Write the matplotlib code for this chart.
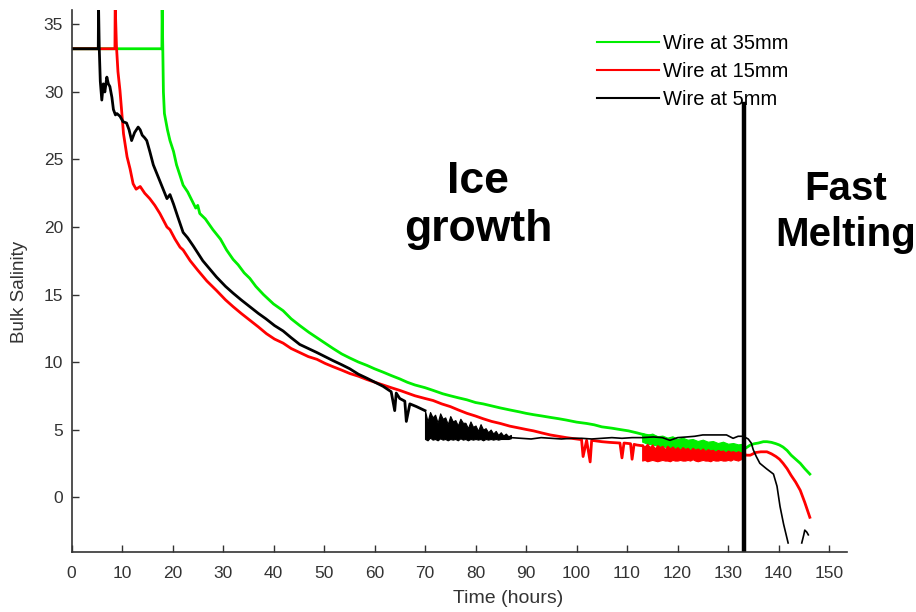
import matplotlib
matplotlib.use("Agg")
import matplotlib.pyplot as plt

plt.rcParams['font.family'] = ['Liberation Sans', 'DejaVu Sans']

# ---------------- data ----------------
green_t = [0, 17.9, 17.95, 18.2, 18.4, 19.0, 19.5, 20.2, 20.8, 21.5, 22.1, 23.0, 23.8, 24.6, 25.0, 25.4, 26.5,
           28.0, 29.5, 30.7, 32.0, 33.0, 34.2, 35.3, 36.5, 38.0, 40.0, 41.9, 43.5, 45.2, 47.0, 48.6, 50.2,
           51.8, 53.5, 55.1, 56.8, 58.5, 60.0, 61.7, 63.3, 65.0, 66.5, 68.0, 70.0, 71.6, 73.5, 75.0, 76.6,
           78.3, 80.0, 81.5, 83.2, 84.9, 86.8, 88.8, 90.0, 91.5, 93.2, 94.8, 96.5, 98.0, 100.0, 102.0, 103.5,
           105.0, 107.0, 108.6, 110.3, 112.0, 113.5, 115.2, 116.8, 118.5, 120.0, 121.8, 123.4, 125.0, 126.7,
           128.4, 129.7, 131.0, 132.4, 133.4, 134.4, 135.2, 136.0, 137.0, 137.7, 138.6, 139.5, 140.2, 140.9,
           141.7, 142.5, 143.4, 144.3, 145.2, 146.2]
green_s = [33.2, 33.2, 36.5, 30.0, 28.4, 27.2, 26.4, 25.6, 24.6, 23.8, 23.1, 22.6, 22.0, 21.4, 21.6, 21.0, 20.6,
           19.8, 19.1, 18.3, 17.6, 17.2, 16.6, 16.2, 15.6, 15.0, 14.3, 13.8, 13.2, 12.7, 12.2, 11.8, 11.4,
           11.0, 10.6, 10.3, 10.0, 9.75, 9.5, 9.25, 9.0, 8.75, 8.5, 8.3, 8.1, 7.9, 7.65, 7.5, 7.35,
           7.2, 7.0, 6.9, 6.75, 6.6, 6.45, 6.3, 6.2, 6.1, 6.0, 5.9, 5.8, 5.7, 5.55, 5.45, 5.35,
           5.2, 5.1, 5.0, 4.9, 4.75, 4.6, 4.5, 4.35, 4.2, 4.1, 4.0, 3.9, 3.8, 3.7,
           3.6, 3.6, 3.55, 3.5, 3.6, 3.85, 3.95, 4.0, 4.1, 4.1, 4.05, 3.95, 3.85, 3.7,
           3.45, 3.1, 2.8, 2.5, 2.1, 1.7]
# noisy band of the green trace before melting (upper / lower edge)
green_band_t = [113, 114, 115, 116, 117, 118, 119, 120, 121, 122, 123, 124, 125, 126, 127, 128, 129, 130,
                131, 132, 133]
green_band_hi = [4.75, 4.6, 4.7, 4.5, 4.55, 4.4, 4.5, 4.3, 4.4, 4.25, 4.3, 4.15, 4.25, 4.1, 4.15, 4.0, 4.1,
                 3.95, 4.0, 3.9, 3.95]
green_band_lo = [4.1, 3.95, 3.9, 3.8, 3.75, 3.7, 3.6, 3.55, 3.5, 3.45, 3.4, 3.35, 3.3, 3.3, 3.2, 3.2, 3.15,
                 3.1, 3.1, 3.05, 3.1]

red_t = [0, 8.6, 8.65, 8.9, 9.2, 9.6, 10.3, 11.0, 11.6, 12.2, 12.8, 13.6, 14.5, 15.5, 16.5, 17.5, 18.9, 19.5,
         20.5, 21.5, 22.1, 23.5, 25.0, 26.8, 28.7, 30.5, 32.0, 33.6, 35.3, 37.0, 38.6, 40.2, 41.9, 43.5,
         45.2, 46.9, 48.6, 50.2, 51.8, 53.5, 55.1, 56.8, 58.5, 60.1, 61.7, 63.3, 65.0, 66.5, 68.0, 70.0,
         71.6, 73.3, 75.0, 76.6, 78.3, 80.0, 81.5, 83.2, 84.9, 86.8, 88.8, 90.1, 91.5, 93.1, 94.8, 96.4,
         98.0, 100.0, 101.0, 101.3, 102.0, 102.7, 103.0, 104.0, 105.0, 106.5, 108.6, 109.0, 109.4, 110.7,
         111.0, 111.4, 112.0, 113.0]
red_s = [33.2, 33.2, 36.5, 33.4, 31.5, 30.1, 26.9, 25.2, 24.3, 23.2, 22.8, 23.0, 22.5, 22.1, 21.6, 21.0, 20.0, 19.8,
         19.1, 18.5, 18.3, 17.5, 16.8, 16.0, 15.3, 14.6, 14.1, 13.6, 13.1, 12.6, 12.1, 11.7, 11.4, 11.0,
         10.7, 10.4, 10.2, 9.9, 9.65, 9.4, 9.15, 8.95, 8.7, 8.5, 8.3, 8.1, 7.9, 7.7, 7.5, 7.3,
         7.15, 6.9, 6.7, 6.45, 6.2, 6.0, 5.8, 5.6, 5.45, 5.25, 5.1, 5.0, 4.9, 4.75, 4.6, 4.5,
         4.4, 4.3, 4.25, 3.0, 4.2, 2.6, 4.2, 4.15, 4.1, 4.05, 4.0, 2.9, 4.0, 3.95,
         2.8, 3.9, 3.85, 3.8]
red_band_t = [113.0, 113.5, 114.0, 114.5, 115.0, 115.5, 116.0, 116.5, 117.0, 117.5, 118.0, 118.5, 119.0,
              119.5, 120.0, 120.5, 121.0, 121.5, 122.0, 122.5, 123.0, 123.5, 124.0, 124.5, 125.0, 125.5,
              126.0, 126.5, 127.0, 127.5, 128.0, 128.5, 129.0, 129.5, 130.0, 130.5, 131.0, 131.5, 132.0,
              132.5, 133.0]
red_band_hi = [3.9, 3.75, 3.95, 3.7, 3.9, 3.6, 3.85, 3.7, 3.8, 3.55, 3.8, 3.6, 3.75, 3.55, 3.7, 3.5,
               3.7, 3.55, 3.65, 3.45, 3.65, 3.5, 3.6, 3.45, 3.6, 3.4, 3.55, 3.45, 3.5, 3.35, 3.5, 3.4,
               3.45, 3.3, 3.45, 3.35, 3.4, 3.3, 3.4, 3.3, 3.35]
red_band_lo = [2.7, 2.75, 2.65, 2.7, 2.75, 2.7, 2.65, 2.7, 2.75, 2.7, 2.7, 2.65, 2.75, 2.7, 2.7, 2.75,
               2.7, 2.7, 2.75, 2.7, 2.8, 2.7, 2.65, 2.7, 2.75, 2.7, 2.7, 2.65, 2.75, 2.7, 2.7, 2.75,
               2.7, 2.7, 2.75, 2.7, 2.8, 2.75, 2.7, 2.8, 2.8]
red_end_t = [133.0, 133.7, 134.4, 135.5, 136.5, 137.7, 138.6, 139.5, 140.2, 140.9, 141.7, 142.5, 143.4,
             144.3, 145.2, 146.2]
red_end_s = [3.2, 3.1, 3.1, 3.3, 3.35, 3.35, 3.2, 3.0, 2.8, 2.5, 2.1, 1.6, 1.1, 0.5, -0.4, -1.5]

black_t = [0, 5.3, 5.35, 5.5, 5.7, 6.0, 6.3, 6.6, 7.0, 7.3, 7.6, 8.0, 8.3, 8.7, 9.0, 9.6, 10.2, 10.9, 11.4,
           11.9, 12.5, 13.2, 13.6, 14.0, 14.5, 14.9, 15.5, 16.2, 17.5, 18.9, 19.5, 20.2, 21.0, 22.1, 23.0,
           24.1, 26.0, 28.7, 30.5, 32.0, 33.6, 35.3, 37.0, 38.5, 40.2, 41.9, 43.5, 45.2, 46.9, 48.6, 50.2,
           51.8, 53.5, 55.1, 56.8, 58.5, 60.1, 61.7, 63.3, 64.0, 64.3, 65.0, 66.0, 66.3, 67.0, 68.3, 70.0]
black_s = [33.2, 33.2, 36.5, 33.2, 30.8, 29.4, 30.6, 30.0, 31.1, 30.6, 30.4, 29.6, 28.7, 28.3, 28.4, 28.2, 27.8,
           27.7, 27.2, 26.4, 27.0, 27.4, 27.2, 26.8, 26.6, 26.4, 25.6, 24.6, 23.4, 22.1, 22.4, 21.7, 20.8,
           19.6, 19.2, 18.6, 17.5, 16.3, 15.6, 15.1, 14.6, 14.1, 13.6, 13.2, 12.7, 12.3, 11.8, 11.3, 11.0,
           10.7, 10.4, 10.1, 9.8, 9.5, 9.1, 8.8, 8.5, 8.2, 7.8, 6.4, 7.7, 7.3, 7.1, 5.6, 6.9, 6.7, 6.4]
black_band_t = [70.0, 70.5, 71.0, 71.5, 72.0, 72.5, 73.0, 73.5, 74.0, 74.5, 75.0, 75.5, 76.0, 76.5, 77.0,
                77.5, 78.0, 78.5, 79.0, 79.5, 80.0, 80.5, 81.0, 81.5, 82.0, 82.5, 83.0, 83.5, 84.0, 84.5,
                85.0, 85.5, 86.0, 86.5, 87.0]
black_band_hi = [6.4, 5.6, 6.3, 5.9, 6.1, 5.5, 6.2, 5.8, 5.9, 5.4, 6.0, 5.6, 5.7, 5.3, 5.8, 5.5, 5.5, 5.1,
                 5.6, 5.2, 5.3, 4.9, 5.4, 5.0, 5.1, 4.8, 5.0, 4.7, 4.9, 4.6, 4.8, 4.55, 4.7, 4.5, 4.6]
black_band_lo = [4.3, 4.2, 4.4, 4.25, 4.3, 4.2, 4.35, 4.25, 4.3, 4.2, 4.3, 4.25, 4.3, 4.2, 4.35, 4.25, 4.3,
                 4.2, 4.3, 4.25, 4.3, 4.25, 4.3, 4.2, 4.3, 4.25, 4.3, 4.25, 4.3, 4.25, 4.3, 4.3, 4.3, 4.3, 4.35]
black_end_t = [87.0, 89.0, 91.0, 93.0, 95.0, 97.0, 99.0, 101.0, 103.0, 105.0, 107.0, 109.0, 111.0, 113.0,
               115.2, 117.0, 118.5, 120.0, 121.8, 123.4, 125.0, 127.0, 129.7, 131.0, 132.0, 133.0, 134.0,
               134.6, 135.0, 135.6, 136.3, 137.6, 139.0, 139.7, 140.3, 141.0, 141.9]
black_end_s = [4.4, 4.35, 4.3, 4.4, 4.35, 4.3, 4.35, 4.35, 4.3, 4.35, 4.4, 4.35, 4.4, 4.4,
               4.45, 4.4, 4.2, 4.4, 4.45, 4.5, 4.6, 4.6, 4.6, 4.35, 4.5, 4.5, 4.3,
               4.0, 3.5, 3.0, 2.5, 2.1, 1.7, 0.8, -0.7, -2.0, -3.4]
black_tail_t = [144.6, 145.0, 145.2, 145.6, 145.9]
black_tail_s = [-3.4, -2.8, -2.45, -2.6, -2.8]

stage_time = 133.2      # boundary between growth and melting (hours)
stage_top = 29.1        # top of the drawn boundary line

labels = ['Wire at 35mm', 'Wire at 15mm', 'Wire at 5mm']
colors = ['#00ee00', '#ff0000', '#000000']

# ---------------- figure ----------------
fig = plt.figure(figsize=(9.16, 6.12), dpi=100)
ax = fig.add_axes([71.5 / 916, 60 / 612, (846.7 - 71.5) / 916, (602 - 60) / 612])

lw = 2.0
ax.plot(green_t, green_s, color=colors[0], lw=lw, label=labels[0])
ax.fill_between(green_band_t, green_band_lo, green_band_hi, color=colors[0], lw=0.8)
ax.plot(red_t, red_s, color=colors[1], lw=lw, label=labels[1])
ax.fill_between(red_band_t, red_band_lo, red_band_hi, color=colors[1], lw=0.8)
ax.plot(red_end_t, red_end_s, color=colors[1], lw=lw)
ax.plot(black_t, black_s, color=colors[2], lw=lw, label=labels[2])
ax.fill_between(black_band_t, black_band_lo, black_band_hi, color=colors[2], lw=0.8)
ax.plot(black_end_t, black_end_s, color=colors[2], lw=1.2)
ax.plot(black_tail_t, black_tail_s, color=colors[2], lw=1.2)

ylo, yhi = -4.07, 36.07
ax.plot([stage_time, stage_time], [ylo, stage_top], color='black', lw=3.2)

ax.set_xlim(0, 153.5)
ax.set_ylim(ylo, yhi)
ax.set_xticks(range(0, 151, 10))
ax.set_yticks(range(0, 36, 5))
for s in ['top', 'right']:
    ax.spines[s].set_visible(False)
for s in ['left', 'bottom']:
    ax.spines[s].set_color('#333333')
    ax.spines[s].set_linewidth(1.2)
ax.tick_params(direction='in', length=5, width=1.0, labelsize=12.5, colors='#333333')
ax.tick_params(axis='x', pad=10)
ax.tick_params(axis='y', pad=6)
ax.set_xlabel('Time (hours)', fontsize=14, color='#333333')
ax.xaxis.set_label_coords(0.563, -0.07)
ax.set_ylabel('Bulk Salinity', fontsize=13.5, color='#333333')
ax.yaxis.set_label_coords(-0.056, 0.48)

ax.text(80.5, 21.6, 'Ice\ngrowth', fontsize=32, fontweight='bold', ha='center', va='center',
        linespacing=1.2)
ax.text(153.3, 21.1, 'Fast\nMelting', fontsize=29, fontweight='bold', ha='center', va='center',
        linespacing=1.25, clip_on=False)

leg = ax.legend(loc='upper left', bbox_to_anchor=(597 / 916, 1 - 34 / 612), bbox_transform=fig.transFigure,
                frameon=False, fontsize=14.5, handlelength=3.1, handletextpad=0.2, labelspacing=0.45,
                borderpad=0, borderaxespad=0)
for line in leg.get_lines():
    line.set_linewidth(1.5)

fig.savefig('out.png', dpi=100)
